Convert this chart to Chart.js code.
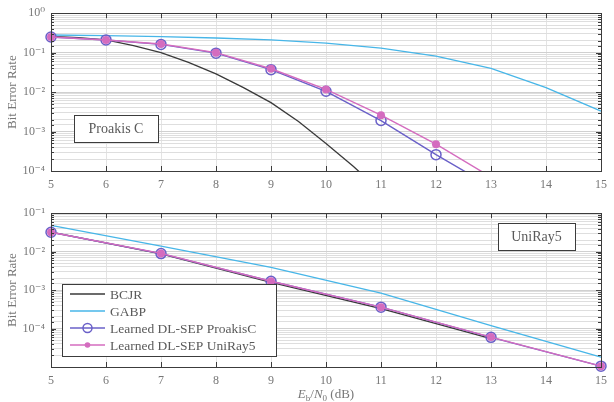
<!DOCTYPE html>
<html>
<head>
<meta charset="utf-8">
<script src="https://cdn.jsdelivr.net/npm/chart.js@4.4.1/dist/chart.umd.min.js"></script>
<style>
  html, body { margin: 0; padding: 0; background: #fff; }
  #wrap { position: relative; width: 614px; height: 402px; }
  canvas { position: absolute; left: 0; }
  #topChart { top: 0; }
  #bottomChart { top: 200px; }
</style>
</head>
<body>
<div id="wrap">
  <canvas id="topChart" width="614" height="200"></canvas>
  <canvas id="bottomChart" width="614" height="202"></canvas>
</div>
<script>
// --- data ---
const xTicks = [5, 6, 7, 8, 9, 10, 11, 12, 13, 14, 15];

// top panel: Proakis C channel
const topBcjrSnr = [5, 5.5, 6, 6.5, 7, 7.5, 8, 8.5, 9, 9.5, 10, 10.5, 11];
const topBcjrBer = [0.26, 0.24, 0.21, 0.15, 0.10, 0.057, 0.029, 0.013, 0.0054, 0.0018, 0.0005, 0.00013, 0.00003];
const topGabpSnr = [5, 6, 7, 8, 9, 10, 11, 12, 13, 14, 15];
const topGabpBer = [0.28, 0.27, 0.255, 0.235, 0.21, 0.175, 0.13, 0.082, 0.04, 0.013, 0.0033];
const topLearnedSnr = [5, 6, 7, 8, 9, 10, 11, 12, 13];
const topProakisBer = [0.25, 0.21, 0.162, 0.097, 0.037, 0.0105, 0.0019, 0.00026, 0.00004];
const topUniRayBer = [0.25, 0.21, 0.165, 0.1, 0.039, 0.0117, 0.0026, 0.00048, 0.00007];

// bottom panel: UniRay5 channel
const bottomSnr = [5, 7, 9, 11, 13, 15];
const bottomBcjrSnr = [5, 7, 9, 11, 13];
const bottomBcjrBer = [0.032, 0.0088, 0.0016, 0.00033, 0.000055];
const bottomGabpBer = [0.048, 0.0139, 0.0039, 0.00083, 0.00012, 0.000018];
const bottomProakisBer = [0.032, 0.0089, 0.0017, 0.00036, 0.000059, 0.0000105];
const bottomUniRayBer = [0.032, 0.009, 0.0017, 0.00036, 0.00006, 0.0000105];

const seriesNames = ["BCJR", "GABP", "Learned DL-SEP ProakisC", "Learned DL-SEP UniRay5"];

const colors = {
  bcjr: "#3a3a3a",
  gabp: "#47b6e8",
  proakis: "#6a60c8",
  uniray: "#d46cbf",
};

const serif = "'Liberation Serif', 'DejaVu Serif', serif";
const textGray = "#777";

function pairs(xs, ys) {
  return xs.map((x, i) => ({ x, y: ys[i] }));
}

function isDecade(v) {
  const e = Math.log10(v);
  return Math.abs(e - Math.round(e)) < 1e-6;
}

const supMap = { "-": "\u207B", "0": "\u2070", "1": "\u00B9", "2": "\u00B2", "3": "\u00B3", "4": "\u2074", "5": "\u2075" };
function powerLabel(v) {
  if (!isDecade(v)) return "";
  const e = String(Math.round(Math.log10(v)));
  return "10" + e.split("").map((c) => supMap[c]).join("");
}

function makeDatasets(d) {
  return [
    {
      label: seriesNames[3], data: d.uniray, borderColor: colors.uniray, borderWidth: 1.4,
      pointStyle: "circle", pointRadius: 4, pointBackgroundColor: colors.uniray, pointBorderColor: colors.uniray,
      pointBorderWidth: 0, tension: 0, clip: d.clip,
    },
    {
      label: seriesNames[2], data: d.proakis, borderColor: colors.proakis, borderWidth: 1.4,
      pointStyle: "circle", pointRadius: 5, pointBackgroundColor: "rgba(0,0,0,0)", pointBorderColor: colors.proakis,
      pointBorderWidth: 1.5, tension: 0, clip: d.clip,
    },
    { label: seriesNames[1], data: d.gabp, borderColor: colors.gabp, borderWidth: 1.3, pointRadius: 0, tension: 0, clip: d.clip },
    { label: seriesNames[0], data: d.bcjr, borderColor: colors.bcjr, borderWidth: 1.3, pointRadius: 0, tension: 0, clip: d.clip },
  ];
}

// box, inward tick marks (matlab style)
const framePlugin = {
  id: "frame",
  afterDatasetsDraw(chart) {
    const { ctx, chartArea: a, scales } = chart;
    ctx.save();
    ctx.strokeStyle = "#3c3c3c";
    ctx.lineWidth = 1;
    ctx.beginPath();
    scales.x.ticks.forEach((t) => {
      const px = Math.round(scales.x.getPixelForValue(t.value)) + 0.5;
      ctx.moveTo(px, a.bottom); ctx.lineTo(px, a.bottom - 5);
      ctx.moveTo(px, a.top); ctx.lineTo(px, a.top + 5);
    });
    scales.y.ticks.forEach((t) => {
      const py = Math.round(scales.y.getPixelForValue(t.value)) + 0.5;
      const len = isDecade(t.value) ? 5 : 3;
      ctx.moveTo(a.left, py); ctx.lineTo(a.left + len, py);
      ctx.moveTo(a.right, py); ctx.lineTo(a.right - len, py);
    });
    ctx.stroke();
    ctx.strokeRect(Math.round(a.left) + 0.5, Math.round(a.top) + 0.5, Math.round(a.right - a.left), Math.round(a.bottom - a.top));
    ctx.restore();
  },
};

function noteBox(ctx, text, x, y, w, h) {
  ctx.save();
  ctx.fillStyle = "#fff";
  ctx.fillRect(x, y, w, h);
  ctx.strokeStyle = "#3c3c3c";
  ctx.lineWidth = 1;
  ctx.strokeRect(x + 0.5, y + 0.5, w, h);
  ctx.fillStyle = "#5a5a5a";
  ctx.font = `14px ${serif}`;
  ctx.textAlign = "center";
  ctx.textBaseline = "middle";
  ctx.fillText(text, x + w / 2, y + h / 2 + 1);
  ctx.restore();
}

const topNote = {
  id: "topNote",
  afterDraw(chart) {
    const a = chart.chartArea;
    noteBox(chart.ctx, "Proakis C", a.left + 23, 115, 84, 27);
  },
};

const bottomNote = {
  id: "bottomNote",
  afterDraw(chart) {
    const { ctx, chartArea: a } = chart;
    noteBox(ctx, "UniRay5", a.right - 103, 23, 77, 27);

    // legend
    const lx = a.left + 11, ly = 84, lw = 214, lh = 72;
    ctx.save();
    ctx.fillStyle = "#fff";
    ctx.fillRect(lx, ly, lw, lh);
    ctx.strokeStyle = "#3c3c3c";
    ctx.lineWidth = 1;
    ctx.strokeRect(lx + 0.5, ly + 0.5, lw, lh);
    const lineCols = [colors.bcjr, colors.gabp, colors.proakis, colors.uniray];
    ctx.font = `13.5px ${serif}`;
    ctx.textBaseline = "middle";
    seriesNames.forEach((name, i) => {
      const y = ly + 10 + i * 17;
      ctx.strokeStyle = lineCols[i];
      ctx.lineWidth = 1.5;
      ctx.beginPath();
      ctx.moveTo(lx + 8, y); ctx.lineTo(lx + 43, y);
      ctx.stroke();
      if (i === 2) {
        ctx.beginPath();
        ctx.arc(lx + 25.5, y, 4.5, 0, Math.PI * 2);
        ctx.stroke();
      }
      if (i === 3) {
        ctx.fillStyle = colors.uniray;
        ctx.beginPath();
        ctx.arc(lx + 25.5, y, 2.8, 0, Math.PI * 2);
        ctx.fill();
      }
      ctx.fillStyle = "#5a5a5a";
      ctx.fillText(name, lx + 48, y + 1);
    });
    ctx.restore();

    // x label: E_b/N_0 (dB)
    ctx.save();
    ctx.fillStyle = textGray;
    ctx.textBaseline = "alphabetic";
    const base = 198;
    const parts = [
      { t: "E", f: `italic 13px ${serif}`, dy: 0 },
      { t: "b", f: `9px ${serif}`, dy: 3 },
      { t: "/", f: `13px ${serif}`, dy: 0 },
      { t: "N", f: `italic 13px ${serif}`, dy: 0 },
      { t: "0", f: `9px ${serif}`, dy: 3 },
      { t: " (dB)", f: `13px ${serif}`, dy: 0 },
    ];
    let total = 0;
    parts.forEach((p) => { ctx.font = p.f; total += ctx.measureText(p.t).width; });
    let x = (a.left + a.right) / 2 - total / 2;
    parts.forEach((p) => {
      ctx.font = p.f;
      ctx.fillText(p.t, x, base + p.dy);
      x += ctx.measureText(p.t).width;
    });
    ctx.restore();
  },
};

function makeOptions(cfg) {
  return {
    responsive: false,
    animation: false,
    layout: { padding: { left: 0, right: 10, top: cfg.padTop, bottom: 0 } },
    plugins: { legend: { display: false }, tooltip: { enabled: false } },
    scales: {
      x: {
        type: "linear",
        min: 5,
        max: 15,
        afterBuildTicks: (scale) => { scale.ticks = xTicks.map((v) => ({ value: v })); },
        afterFit: (scale) => { scale.height = cfg.xHeight; },
        ticks: { color: textGray, font: { family: serif, size: 12 }, padding: 7 },
        grid: { color: "#e4e4e4", drawTicks: false },
        border: { display: false },
      },
      y: {
        type: "logarithmic",
        min: cfg.yMin,
        max: cfg.yMax,
        afterFit: (scale) => { scale.width = 51; },
        ticks: {
          autoSkip: false,
          color: textGray,
          font: { family: serif, size: 12 },
          padding: 6,
          callback: (v) => (cfg.hideLabel && Math.abs(v - cfg.hideLabel) < 1e-12 ? "" : powerLabel(v)),
        },
        grid: {
          drawTicks: false,
          color: (c) => (c.tick && isDecade(c.tick.value) ? "#d0d0d0" : "#dedede"),
        },
        border: { display: false },
        title: {
          display: true,
          text: "Bit Error Rate",
          color: textGray,
          font: { family: serif, size: 13 },
          padding: { top: 5, bottom: 0 },
        },
      },
    },
  };
}

new Chart(document.getElementById("topChart"), {
  type: "line",
  data: {
    datasets: makeDatasets({
      bcjr: pairs(topBcjrSnr, topBcjrBer),
      gabp: pairs(topGabpSnr, topGabpBer),
      proakis: pairs(topLearnedSnr, topProakisBer),
      uniray: pairs(topLearnedSnr, topUniRayBer),
      clip: { left: 8, top: 8, right: 8, bottom: 0 },
    }),
  },
  options: makeOptions({ padTop: 10, xHeight: 29, yMin: 1e-4, yMax: 1 }),
  plugins: [framePlugin, topNote],
});

new Chart(document.getElementById("bottomChart"), {
  type: "line",
  data: {
    datasets: makeDatasets({
      bcjr: pairs(bottomBcjrSnr, bottomBcjrBer),
      gabp: pairs(bottomSnr, bottomGabpBer),
      proakis: pairs(bottomSnr, bottomProakisBer),
      uniray: pairs(bottomSnr, bottomUniRayBer),
      clip: false,
    }),
  },
  options: makeOptions({ padTop: 4, xHeight: 35, yMin: 1e-5, yMax: 1e-1, hideLabel: 1e-5 }),
  plugins: [framePlugin, bottomNote],
});
</script>
</body>
</html>
